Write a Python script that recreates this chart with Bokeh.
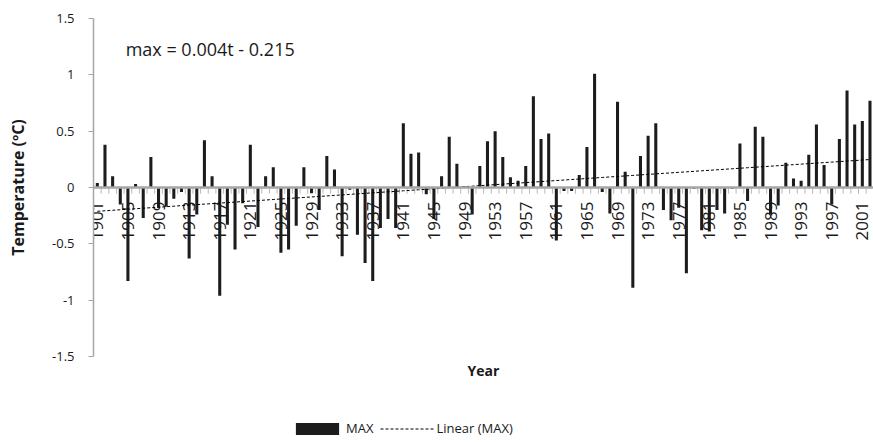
import numpy as np
from bokeh.plotting import figure
from bokeh.layouts import column
from bokeh.models import (Range1d, FixedTicker, CustomJSTickFormatter, Span,
                          Legend, LegendItem, Label)
from bokeh.embed import file_html
from bokeh.resources import INLINE
from bokeh.core.properties import value

# ---------------- data ----------------
years = list(range(1901, 2003))
max_anom = [
    0.04, 0.38, 0.10, -0.15, -0.83, 0.03, -0.27, 0.27, -0.18, -0.17,   # 1901-1910
    -0.10, -0.04, -0.63, -0.24, 0.42, 0.10, -0.96, -0.33, -0.55, -0.14,  # 1911-1920
    0.38, -0.35, 0.10, 0.18, -0.58, -0.55, -0.34, 0.18, -0.05, -0.20,    # 1921-1930
    0.28, 0.16, -0.61, -0.02, -0.42, -0.67, -0.83, -0.36, -0.28, -0.36,  # 1931-1940
    0.57, 0.30, 0.31, -0.06, -0.28, 0.10, 0.45, 0.21, 0.01, -0.24,       # 1941-1950
    0.19, 0.41, 0.50, 0.27, 0.09, 0.06, 0.19, 0.81, 0.43, 0.48,          # 1951-1960
    -0.47, -0.03, -0.03, 0.11, 0.36, 1.01, -0.04, -0.23, 0.76, 0.14,     # 1961-1970
    -0.89, 0.28, 0.46, 0.57, -0.20, -0.29, -0.18, -0.76, -0.01, -0.38,   # 1971-1980
    -0.39, -0.20, -0.23, -0.01, 0.39, -0.12, 0.54, 0.45, -0.24, -0.16,   # 1981-1990
    0.22, 0.08, 0.06, 0.29, 0.56, 0.20, -0.15, 0.43, 0.86, 0.56,         # 1991-2000
    0.59, 0.77,                                                          # 2001-2002
]
label_years = years[::4]
label_texts = [str(y) for y in label_years]
y_ticks = [-1.5, -1, -0.5, 0, 0.5, 1, 1.5]
equation_text = "max = 0.004t - 0.215"

# linear trend (least squares on t = 1..N, as the chart's "Linear (MAX)")
t = np.arange(1, len(years) + 1)
slope, intercept = np.polyfit(t, np.array(max_anom), 1)
trend = slope * t + intercept

FONT = "Open Sans"
BAR = "#1c1c1c"
AXIS_GREY = "#a6a6a6"
TXT = "#1a1a1a"

p = figure(width=873, height=392, output_backend="svg", toolbar_location=None,
           x_range=Range1d(1900.5, 2002.46), y_range=Range1d(-1.5, 1.5),
           min_border_left=93, min_border_right=0, min_border_top=18,
           min_border_bottom=36)
p.outline_line_color = None
p.xgrid.grid_line_color = None
p.ygrid.grid_line_color = None

bars = p.vbar(x=years, top=max_anom, bottom=0, width=0.4,
              fill_color=BAR, line_color=None)

# category boundary ticks under the zero line
bounds = [y - 0.5 for y in years] + [years[-1] + 0.5]
p.segment(x0=bounds, y0=[0] * len(bounds), x1=bounds, y1=[-0.055] * len(bounds),
          line_color="#b8b8b8", line_width=1)

p.add_layout(Span(location=0, dimension="width", line_color=AXIS_GREY,
                  line_width=2.5))

# rotated year labels next to the zero line
p.text(x=label_years, y=[0] * len(label_years), text=label_texts,
       angle=np.pi / 2, text_align="right", text_baseline="middle",
       y_offset=14, text_font=value(FONT), text_font_size="17px",
       text_color=TXT)

trend_line = p.line(years, trend, line_color="black", line_width=1,
                    line_dash="3 2")

p.add_layout(Label(x=1904.7, y=1.225, text=equation_text, text_font=FONT,
                   text_font_size="18px", text_baseline="middle",
                   text_color=TXT))

# y axis
ya = p.yaxis[0]
ya.ticker = FixedTicker(ticks=y_ticks)
ya.formatter = CustomJSTickFormatter(code="return (Math.round(tick*10)/10).toString();")
ya.axis_line_color = AXIS_GREY
ya.axis_line_width = 1.5
ya.major_tick_line_color = AXIS_GREY
ya.major_tick_out = 5
ya.major_tick_in = 0
ya.minor_tick_line_color = None
ya.major_label_text_font = FONT
ya.major_label_text_font_size = "13px"
ya.major_label_text_color = TXT
ya.major_label_standoff = 14
ya.axis_label = "Temperature (ºC)"
ya.axis_label_text_font = FONT
ya.axis_label_text_font_style = "bold"
ya.axis_label_text_font_size = "16px"
ya.axis_label_text_color = TXT
ya.axis_label_standoff = 20

# x axis: only the title
xa = p.xaxis[0]
xa.ticker = FixedTicker(ticks=[])
xa.axis_line_color = None
xa.major_tick_line_color = None
xa.minor_tick_line_color = None
xa.major_tick_out = 0
xa.major_label_standoff = 0
xa.axis_label = "Year"
xa.axis_label_text_font = FONT
xa.axis_label_text_font_style = "bold"
xa.axis_label_text_font_size = "14px"
xa.axis_label_text_color = TXT
xa.axis_label_standoff = 4

# ---- legend strip (separate small figure under the chart) ----
lg = figure(width=873, height=50, output_backend="svg", toolbar_location=None,
            x_range=Range1d(0, 1), y_range=Range1d(0, 1),
            x_axis_location=None, y_axis_location=None,
            min_border_left=0, min_border_right=0, min_border_top=0,
            min_border_bottom=0)
lg.outline_line_color = None
lg.xgrid.grid_line_color = None
lg.ygrid.grid_line_color = None
lg_bars = lg.vbar(x=years, top=max_anom, bottom=0, width=0.4,
                  fill_color=BAR, line_color=None)
lg_line = lg.line(years, trend, line_color="black", line_width=1,
                  line_dash="3 2")
legend = Legend(items=[LegendItem(label="MAX", renderers=[lg_bars]),
                       LegendItem(label="Linear (MAX)", renderers=[lg_line])],
                orientation="horizontal", location=(197, 5),
                glyph_width=54, glyph_height=15, label_standoff=2, spacing=7,
                padding=2, margin=0, border_line_color=None,
                background_fill_alpha=0, label_text_font=FONT,
                label_text_font_size="13px", label_text_color=TXT)
lg.add_layout(legend)

open("out.html", "w").write(file_html(column(p, lg), INLINE))
